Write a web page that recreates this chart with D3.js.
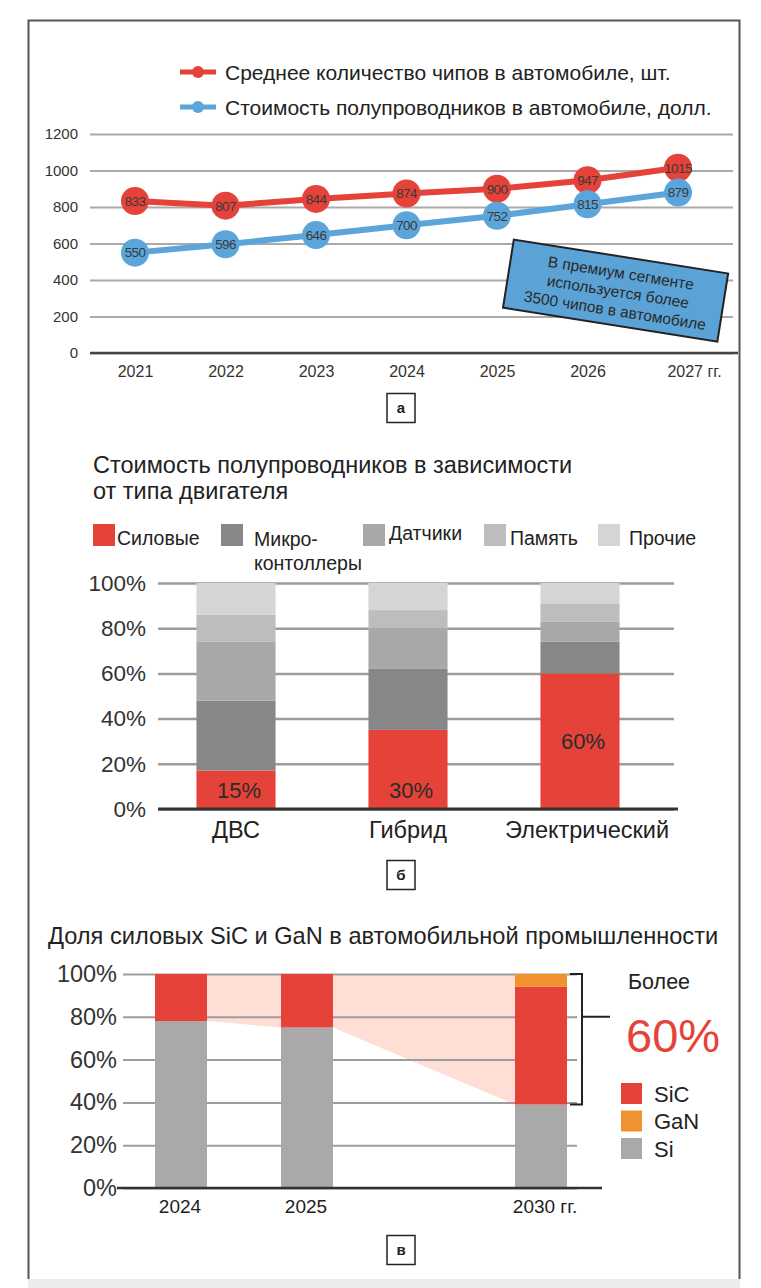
<!DOCTYPE html>
<html>
<head>
<meta charset="utf-8">
<script src="https://cdn.jsdelivr.net/npm/d3@7"></script>
<style>
    body { margin: 0; background: #fff; }
    svg { display: block; font-family: "Liberation Sans", Arial, sans-serif; }
    .axis .domain { display: none; }
</style>
</head>
<body>
<div id="chart"></div>
<script>
// chart "а": chips per car and semiconductor cost per car
var years = [2021, 2022, 2023, 2024, 2025, 2026, 2027];
var chipCount = [833, 807, 844, 874, 900, 947, 1015];
var chipCost = [550, 596, 646, 700, 752, 815, 879];
var countTicks = [0, 200, 400, 600, 800, 1000, 1200];
var lineNames = ['Среднее количество чипов в автомобиле, шт.', 'Стоимость полупроводников в автомобиле, долл.'];
var noteLines = ['В премиум сегменте', 'используется более', '3500 чипов в автомобиле'];

// chart "б": cost of semiconductors by engine type, %
var engines = ['ДВС', 'Гибрид', 'Электрический'];
var power = [17, 35, 60];
var micro = [31, 27, 14];
var sensors = [26, 18, 9];
var memory = [12, 8, 8];
var other = [14, 12, 9];
var powerLabels = ['15%', '30%', '60%'];
var pctTicks = [0, 20, 40, 60, 80, 100];

// chart "в": share of SiC and GaN power devices
var shareYears = [2024, 2025, 2030];
var si = [78, 75, 39];
var sic = [22, 25, 55];
var gan = [0, 0, 6];

var red = '#e5433a',
    blue = '#5ba5da',
    ink = '#333';

var svg = d3.select('#chart').append('svg')
    .attr('width', 761)
    .attr('height', 1288);

// page frame + grey strip at the bottom
svg.append('rect')
    .attr('x', 28).attr('y', 1279).attr('width', 712).attr('height', 9)
    .attr('fill', '#ececec');
svg.append('path')
    .attr('d', 'M28.5,1279V20.5H739.5V1279')
    .attr('fill', 'none')
    .attr('stroke', '#555')
    .attr('stroke-width', 2);

// small boxed letter under each chart
var panelTag = function(letter, cx, cy) {
    svg.append('rect')
        .attr('x', cx - 14).attr('y', cy - 14.5).attr('width', 28).attr('height', 29)
        .attr('fill', '#fff').attr('stroke', '#222').attr('stroke-width', 1.5);
    svg.append('text')
        .attr('x', cx).attr('y', cy).attr('dy', '0.36em')
        .attr('text-anchor', 'middle')
        .attr('font-size', 15).attr('font-weight', 'bold').attr('fill', '#222')
        .text(letter);
};

/* ---------------- chart а ---------------- */
var gA = svg.append('g');
var xA = d3.scalePoint().domain(years).range([135, 678]);
var yA = d3.scaleLinear().domain([0, 1200]).range([353, 134]);

gA.append('g')
    .attr('class', 'axis y')
    .attr('transform', 'translate(90,0)')
    .call(d3.axisLeft(yA).tickValues(countTicks).tickFormat(d3.format('d')).tickSize(-643).tickPadding(12))
    .call(g => g.selectAll('line').attr('stroke', '#aaa').attr('stroke-width', 2))
    .call(g => g.selectAll('text').attr('font-size', 15).attr('fill', ink).attr('font-family', null));

gA.append('line')
    .attr('x1', 90).attr('x2', 738)
    .attr('y1', yA(0)).attr('y2', yA(0))
    .attr('stroke', '#444').attr('stroke-width', 2.5);

gA.append('g')
    .attr('class', 'axis x')
    .attr('transform', 'translate(0,' + yA(0) + ')')
    .call(d3.axisBottom(xA).tickSize(0).tickPadding(13)
        .tickFormat((d) => d === years[years.length - 1] ? d + ' гг.' : d))
    .call(g => g.selectAll('text').attr('font-size', 16).attr('fill', ink).attr('font-family', null))
    .call(g => g.selectAll('.tick:last-of-type text').attr('dx', '1.0em'));

var series = [
    {name: lineNames[0], values: chipCount, color: red},
    {name: lineNames[1], values: chipCost, color: blue}
];

var line = d3.line()
    .x((d, i) => xA(years[i]))
    .y((d) => yA(d));

series.forEach(function(s) {
    var g = gA.append('g');
    g.append('path')
        .attr('d', line(s.values))
        .attr('fill', 'none')
        .attr('stroke', s.color)
        .attr('stroke-width', 6);
    g.selectAll('circle').data(s.values).enter().append('circle')
        .attr('cx', (d, i) => xA(years[i]))
        .attr('cy', (d) => yA(d))
        .attr('r', 14)
        .attr('fill', s.color);
    g.selectAll('text').data(s.values).enter().append('text')
        .attr('x', (d, i) => xA(years[i]))
        .attr('y', (d) => yA(d))
        .attr('dy', '0.36em')
        .attr('text-anchor', 'middle')
        .attr('font-size', 13.5)
        .attr('letter-spacing', -0.6)
        .attr('fill', '#3a3a3a')
        .text((d) => d);
});

// legend for the two lines
var legA = gA.selectAll('.legA').data(series).enter().append('g')
    .attr('class', 'legA')
    .attr('transform', (d, i) => 'translate(0,' + (72 + i * 35) + ')');
legA.append('line')
    .attr('x1', 180).attr('x2', 216)
    .attr('stroke', (d) => d.color).attr('stroke-width', 5);
legA.append('circle')
    .attr('cx', 198).attr('r', 6)
    .attr('fill', (d) => d.color);
legA.append('text')
    .attr('x', 225).attr('dy', '0.36em')
    .attr('font-size', 21).attr('fill', '#222')
    .text((d) => d.name);

// rotated note box
var note = gA.append('g')
    .attr('transform', 'translate(615,291) rotate(9)');
note.append('rect')
    .attr('x', -108).attr('y', -35).attr('width', 217).attr('height', 69)
    .attr('fill', '#5ba3d6').attr('stroke', '#222').attr('stroke-width', 2);
note.selectAll('text').data(noteLines).enter().append('text')
    .attr('x', 3)
    .attr('y', (d, i) => (i - 1) * 19)
    .attr('dy', '0.36em')
    .attr('text-anchor', 'middle')
    .attr('font-size', 15.5).attr('fill', '#2a2a2a')
    .text((d) => d);

panelTag('а', 401, 408);

/* ---------------- chart б ---------------- */
var gB = svg.append('g');
var segKeys = ['power', 'micro', 'sensors', 'memory', 'other'];
var segColors = {power: red, micro: '#878787', sensors: '#a8a8a8', memory: '#bdbdbd', other: '#d5d5d5'};
var rowsB = engines.map((e, i) => ({
    engine: e, power: power[i], micro: micro[i], sensors: sensors[i], memory: memory[i], other: other[i]
}));

gB.append('text')
    .attr('x', 93).attr('y', 473)
    .attr('font-size', 23.5).attr('fill', '#222')
    .call(t => t.append('tspan').text('Стоимость полупроводников в зависимости'))
    .call(t => t.append('tspan').attr('x', 93).attr('dy', 26).text('от типа двигателя'));

// legend
var legB = [
    {key: 'power', x: 93, lines: ['Силовые'], tx: 117, ty: 545},
    {key: 'micro', x: 221, lines: ['Микро-', 'контоллеры'], tx: 254, ty: 546},
    {key: 'sensors', x: 363, lines: ['Датчики'], tx: 389, ty: 540},
    {key: 'memory', x: 484, lines: ['Память'], tx: 510, ty: 545},
    {key: 'other', x: 598, lines: ['Прочие'], tx: 629, ty: 545}
];
var legBG = gB.selectAll('.legB').data(legB).enter().append('g').attr('class', 'legB');
legBG.append('rect')
    .attr('x', (d) => d.x).attr('y', 524).attr('width', 22).attr('height', 22)
    .attr('fill', (d) => segColors[d.key]);
legBG.append('text')
    .attr('font-size', 19.5).attr('fill', '#222')
    .each(function(d) {
        var t = d3.select(this);
        d.lines.forEach((l, i) => t.append('tspan').attr('x', d.tx).attr('y', d.ty + i * 24).text(l));
    });

var xB = d3.scaleBand().domain(engines).range([150, 666]).paddingInner(0.54).paddingOuter(0.27);
var yB = d3.scaleLinear().domain([0, 100]).range([809, 583]);

gB.append('g')
    .attr('class', 'axis y')
    .attr('transform', 'translate(158,0)')
    .call(d3.axisLeft(yB).tickValues(pctTicks).tickFormat((d) => d + '%').tickSize(-516).tickPadding(12))
    .call(g => g.selectAll('line').attr('stroke', '#9d9d9d').attr('stroke-width', 2.5))
    .call(g => g.selectAll('text').attr('font-size', 22.5).attr('fill', ink).attr('font-family', null));

var stackB = d3.stack().keys(segKeys)(rowsB);
gB.selectAll('.layer').data(stackB).enter().append('g')
    .attr('class', 'layer')
    .attr('fill', (d) => segColors[d.key])
    .selectAll('rect').data((d) => d).enter().append('rect')
    .attr('x', (d) => xB(d.data.engine))
    .attr('y', (d) => yB(d[1]))
    .attr('width', xB.bandwidth())
    .attr('height', (d) => yB(d[0]) - yB(d[1]));

gB.append('line')
    .attr('x1', 158).attr('x2', 678)
    .attr('y1', yB(0)).attr('y2', yB(0))
    .attr('stroke', '#333').attr('stroke-width', 3);

// printed labels on the red segment: near the base for short bars, centred for tall ones
gB.selectAll('.plab').data(powerLabels).enter().append('text')
    .attr('class', 'plab')
    .attr('x', (d, i) => xB(engines[i]) + xB.bandwidth() / 2 + 3)
    .attr('y', (d, i) => power[i] < 50 ? yB(0) - 11 : yB(power[i] / 2) + 8)
    .attr('text-anchor', 'middle')
    .attr('font-size', 22).attr('fill', '#2b2b2b')
    .text((d) => d);

gB.append('g')
    .attr('class', 'axis x')
    .attr('transform', 'translate(0,' + yB(0) + ')')
    .call(d3.axisBottom(xB).tickSize(0).tickPadding(12))
    .call(g => g.selectAll('text').attr('font-size', 23.5).attr('fill', '#222').attr('font-family', null))
    .call(g => g.selectAll('.tick:last-of-type text').attr('dx', '0.3em'));

panelTag('б', 401, 875);

/* ---------------- chart в ---------------- */
var gC = svg.append('g');
var xC = d3.scaleLinear().domain(shareYears).range([181, 307, 541]);
var yC = d3.scaleLinear().domain([0, 100]).range([1188, 974]);
var barW = 52;
var rowsC = shareYears.map((y, i) => ({year: y, si: si[i], sic: sic[i], gan: gan[i]}));
var colorsC = {si: '#a9a9a9', sic: red, gan: '#f0922f'};

gC.append('text')
    .attr('x', 48).attr('y', 944)
    .attr('font-size', 23.6).attr('fill', '#222')
    .text('Доля силовых SiC и GaN в автомобильной промышленности');

// pale band linking the tops of the Si bars
var edges = [];
rowsC.forEach(function(d, i) {
    if (i > 0) edges.push({x: xC(d.year) - barW / 2, v: d.si});
    if (i < rowsC.length - 1) edges.push({x: xC(d.year) + barW / 2, v: d.si});
});
gC.append('path')
    .attr('d', d3.area().x((d) => d.x).y0((d) => yC(d.v)).y1(yC(100))(edges))
    .attr('fill', '#fddfd6');

gC.append('g')
    .attr('class', 'axis y')
    .attr('transform', 'translate(123,0)')
    .call(d3.axisLeft(yC).tickValues(pctTicks).tickFormat((d) => d + '%').tickSize(-454).tickPadding(6))
    .call(g => g.selectAll('line').attr('stroke', '#9d9d9d').attr('stroke-width', 2))
    .call(g => g.selectAll('text').attr('font-size', 23.5).attr('fill', ink).attr('font-family', null));

var stackC = d3.stack().keys(['si', 'sic', 'gan'])(rowsC);
gC.selectAll('.layerC').data(stackC).enter().append('g')
    .attr('class', 'layerC')
    .attr('fill', (d) => colorsC[d.key])
    .selectAll('rect').data((d) => d.filter((p) => p[1] > p[0])).enter().append('rect')
    .attr('x', (d) => xC(d.data.year) - barW / 2)
    .attr('y', (d) => yC(d[1]))
    .attr('width', barW)
    .attr('height', (d) => yC(d[0]) - yC(d[1]));

gC.append('line')
    .attr('x1', 117).attr('x2', 602)
    .attr('y1', yC(0)).attr('y2', yC(0))
    .attr('stroke', '#333').attr('stroke-width', 2.5);

gC.selectAll('.xlab').data(shareYears).enter().append('text')
    .attr('class', 'xlab')
    .attr('x', (d, i) => xC(d) + (i === shareYears.length - 1 ? 4 : -1))
    .attr('y', 1213)
    .attr('text-anchor', 'middle')
    .attr('font-size', 19).attr('fill', '#222')
    .text((d, i) => i === shareYears.length - 1 ? d + ' гг.' : d);

// bracket around SiC + GaN of the last bar
var last = rowsC[rowsC.length - 1];
var bx = xC(last.year) + barW / 2 + 15;
gC.append('path')
    .attr('d', 'M' + (bx - 12) + ',' + yC(100) + 'H' + bx + 'V' + yC(last.si) + 'H' + (bx - 12)
        + 'M' + bx + ',' + yC(80) + 'H' + (bx + 28))
    .attr('fill', 'none').attr('stroke', '#222').attr('stroke-width', 2);

gC.append('text')
    .attr('x', 628).attr('y', 989)
    .attr('font-size', 21.5).attr('fill', '#222')
    .text('Более');
gC.append('text')
    .attr('x', 626).attr('y', 1052)
    .attr('font-size', 47).attr('fill', red)
    .text((100 - last.si - 1) + '%');

var legC = [{key: 'sic', name: 'SiC'}, {key: 'gan', name: 'GaN'}, {key: 'si', name: 'Si'}];
var legCG = gC.selectAll('.legC').data(legC).enter().append('g')
    .attr('class', 'legC')
    .attr('transform', (d, i) => 'translate(621,' + (1083 + i * 27.5) + ')');
legCG.append('rect')
    .attr('width', 21).attr('height', 21)
    .attr('fill', (d) => colorsC[d.key]);
legCG.append('text')
    .attr('x', 33).attr('y', 11).attr('dy', '0.36em')
    .attr('font-size', 22).attr('fill', '#222')
    .text((d) => d.name);

panelTag('в', 401, 1250);
</script>
</body>
</html>
